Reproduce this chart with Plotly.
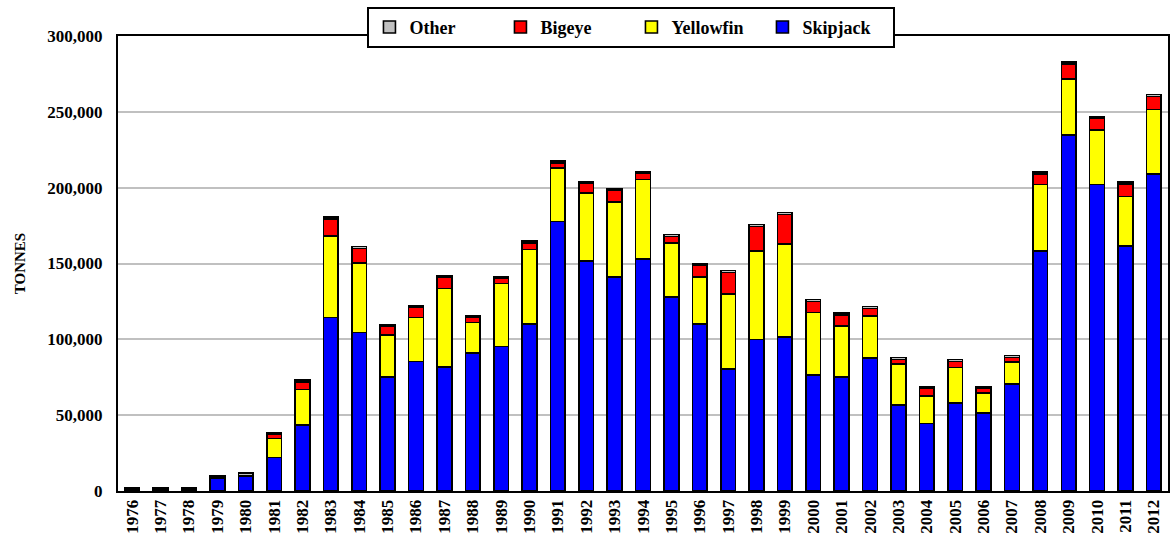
import plotly.graph_objects as go

years = [str(y) for y in range(1976, 2013)]

skipjack = [1200, 1200, 1200, 8500, 9500, 22000, 43500, 114300, 104400, 75200,
            85300, 81800, 91000, 95400, 110100, 177600, 151600, 141300, 152800, 128100,
            110100, 80600, 99800, 101700, 76300, 75200, 87500, 56900, 44600, 58200,
            51400, 70500, 158400, 234700, 202200, 161700, 209000]
yellowfin = [300, 300, 300, 300, 600, 12500, 23300, 53800, 45900, 27700,
             29000, 51600, 20000, 41500, 49200, 35400, 44700, 49400, 52500, 35400,
             31000, 49300, 58400, 61000, 41300, 33600, 27900, 27000, 18000, 23300,
             13400, 14500, 43600, 36900, 36000, 32600, 42600]
bigeye = [100, 100, 100, 100, 200, 3000, 5200, 11200, 9700, 5700,
          6600, 7500, 3300, 3100, 4200, 3300, 6600, 7600, 4200, 4400,
          7500, 14300, 16300, 19700, 7400, 7200, 5000, 2900, 4900, 4000,
          2700, 3100, 7200, 9900, 7300, 8300, 8600]
other = [600, 600, 600, 1000, 1500, 1200, 1200, 1200, 1300, 1100,
         1100, 1000, 1100, 1000, 1300, 1100, 1100, 1100, 1100, 1100,
         1100, 1200, 1100, 1200, 1200, 1200, 1200, 1100, 1100, 1100,
         1100, 1200, 1200, 1200, 1100, 1200, 1200]

series = [
    ("Skipjack", skipjack, "#0000FF"),
    ("Yellowfin", yellowfin, "#FFFF00"),
    ("Bigeye", bigeye, "#FF0000"),
    ("Other", other, "#C0C0C0"),
]

FONT = "Liberation Serif, Times New Roman, serif"

fig = go.Figure()
for name, vals, color in series:
    fig.add_trace(go.Bar(
        x=years, y=vals, name=name,
        marker=dict(color=color, line=dict(color="black", width=1.6)),
    ))

fig.update_layout(
    barmode="stack",
    bargap=0.48,
    width=1172, height=546,
    margin=dict(l=118, r=2, t=36, b=55),
    paper_bgcolor="white",
    plot_bgcolor="white",
    font=dict(family=FONT, color="black", size=17, weight="bold"),
    showlegend=True,
    legend=dict(
        orientation="h",
        traceorder="reversed",
        x=0.489, xanchor="center",
        y=1.019, yanchor="middle",
        bgcolor="white",
        bordercolor="black",
        borderwidth=2,
        font=dict(family=FONT, size=18, weight="bold"),
        entrywidth=86,
        entrywidthmode="pixels",
        itemwidth=30,
    ),
    xaxis=dict(
        type="category",
        tickangle=-90,
        tickfont=dict(family=FONT, size=17, weight="bold"),
        showline=True, linecolor="black", linewidth=2, mirror=True,
        ticks="",
        showgrid=False,
    ),
    yaxis=dict(
        range=[0, 300000],
        dtick=50000,
        tickformat=",",
        tickfont=dict(family=FONT, size=17, weight="bold"),
        showline=True, linecolor="black", linewidth=2, mirror=True,
        showgrid=True, gridcolor="#C0C0C0", gridwidth=2,
        ticks="",
        ticklabelstandoff=10,
        zeroline=False,
        title=dict(text="TONNES", font=dict(family=FONT, size=15, weight="bold"), standoff=18),
    ),
)

fig.write_html("out.html")
